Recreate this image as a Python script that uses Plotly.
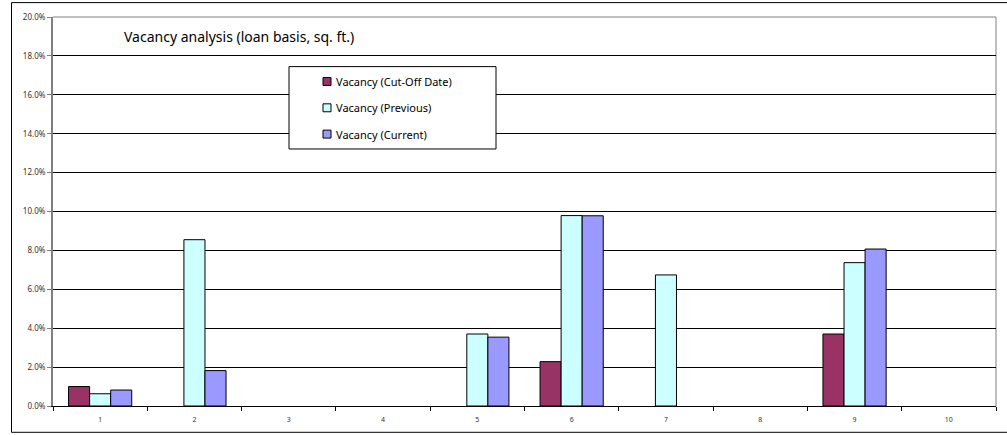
import plotly.graph_objects as go

# Loan categories and vacancy rates (fractions of loan-basis square footage)
categories = ["1", "2", "3", "4", "5", "6", "7", "8", "9", "10"]
series_names = ["Vacancy (Cut-Off Date)", "Vacancy (Previous)", "Vacancy (Current)"]
vacancy_cutoff = [0.0100, None, None, None, None, 0.0228, None, None, 0.0370, None]
vacancy_previous = [0.0063, 0.0855, None, None, 0.0370, 0.0979, 0.0674, None, 0.0737, None]
vacancy_current = [0.0082, 0.0182, None, None, 0.0354, 0.0978, None, None, 0.0807, None]
y_ticks = [0.00, 0.02, 0.04, 0.06, 0.08, 0.10, 0.12, 0.14, 0.16, 0.18, 0.20]

colors = ["#993366", "#CCFFFF", "#9999FF"]
series_values = [vacancy_cutoff, vacancy_previous, vacancy_current]

W, H = 1007, 435
ML, MR, MT, MB = 53, 11, 15, 28
PW, PH = W - ML - MR, H - MT - MB


def px(x):
    return (x - ML) / PW


def py(y):
    return (H - MB - y) / PH


fig = go.Figure()
for name, vals, col in zip(series_names, series_values, colors):
    fig.add_trace(go.Bar(
        x=categories, y=vals, name=name,
        marker=dict(color=col, line=dict(color="black", width=1)),
        showlegend=False,
    ))

FONT = "Noto Sans"

shapes = [
    # outer chart frame
    dict(type="rect", xref="paper", yref="paper",
         x0=px(11.5), x1=px(1012), y0=py(433.5), y1=py(0.5),
         line=dict(color="black", width=1), layer="below"),
    # plot area frame (top and right)
    dict(type="line", xref="paper", yref="paper", x0=0, x1=1, y0=1, y1=1,
         line=dict(color="#808080", width=1), layer="below"),
    dict(type="line", xref="paper", yref="paper", x0=1, x1=1, y0=0, y1=1,
         line=dict(color="#808080", width=1), layer="below"),
    # legend box
    dict(type="rect", xref="paper", yref="paper",
         x0=px(289), x1=px(496), y0=py(148), y1=py(65),
         fillcolor="white", line=dict(color="black", width=1), layer="above"),
]

annotations = [
    dict(text="Vacancy analysis (loan basis, sq. ft.)", xref="paper", yref="paper",
         x=px(122), y=py(35), xanchor="left", yanchor="middle", showarrow=False,
         font=dict(family=FONT, size=14, color="black")),
]

legend_y = [80, 106.5, 133]
for name, col, ly in zip(series_names, colors, legend_y):
    shapes.append(dict(type="rect", xref="paper", yref="paper",
                       x0=px(323), x1=px(331), y0=py(ly + 4), y1=py(ly - 4),
                       fillcolor=col, line=dict(color="black", width=1), layer="above"))
    annotations.append(dict(text=name, xref="paper", yref="paper",
                            x=px(334), y=py(ly), xanchor="left", yanchor="middle",
                            showarrow=False,
                            font=dict(family=FONT, size=11, color="black")))

fig.update_layout(
    width=W, height=H,
    margin=dict(l=ML, r=MR, t=MT, b=MB, pad=0),
    paper_bgcolor="white", plot_bgcolor="white",
    barmode="group", bargap=0.33, bargroupgap=0,
    font=dict(family=FONT, color="black"),
    shapes=shapes, annotations=annotations,
    xaxis=dict(
        type="category", categoryorder="array", categoryarray=categories,
        showgrid=False, showline=True, linecolor="black", linewidth=1,
        ticks="outside", tickson="boundaries", ticklen=4, tickcolor="black",
        ticklabelstandoff=7,
        tickfont=dict(size=7, family=FONT, color="#333333"), fixedrange=True,
    ),
    yaxis=dict(
        range=[0, 0.2], tickvals=y_ticks, tickformat=".1%",
        showgrid=True, gridcolor="black", gridwidth=1, zeroline=False,
        showline=True, linecolor="#808080", linewidth=2,
        ticks="outside", ticklen=4, tickcolor="#808080",
        tickfont=dict(size=8, family=FONT, color="#333333"), fixedrange=True,
    ),
)

fig.write_html("out.html")
